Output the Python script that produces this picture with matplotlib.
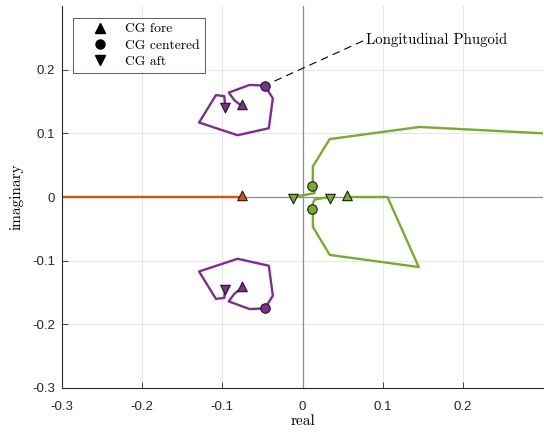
import numpy as np
import matplotlib
matplotlib.use("Agg")
import matplotlib.pyplot as plt
from matplotlib.lines import Line2D
from matplotlib.path import Path

# ---- data ----
# Phugoid (purple) upper branch: fore -> centered -> aft
phug_re = [-0.0758, -0.085, -0.092, -0.066, -0.047, -0.037, -0.042, -0.081, -0.129, -0.108, -0.0975, -0.0966]
phug_im = [0.1429, 0.152, 0.164, 0.176, 0.175, 0.155, 0.108, 0.097, 0.117, 0.160, 0.1585, 0.143]
phug_fore = (-0.0758, 0.1429)
phug_cent = (-0.047, 0.175)
phug_aft = (-0.0966, 0.143)

# Green branch 1 (upper): fore (off-screen right) -> centered -> aft
g1_re = [0.45, 0.30, 0.146, 0.034, 0.0129, 0.0129, 0.012, 0.015, 0.015, -0.012]
g1_im = [0.09, 0.100, 0.110, 0.091, 0.048, 0.024, 0.018, 0.012, 0.006, 0.0]
g1_cent = (0.012, 0.018)
g1_aft = (-0.012, 0.0)

# Green branch 2 (lower): fore -> centered -> aft
g2_re = [0.056, 0.106, 0.145, 0.034, 0.013, 0.0129, 0.012, 0.013, 0.015, 0.034]
g2_im = [0.0, 0.0, -0.110, -0.091, -0.047, -0.025, -0.019, -0.010, -0.004, 0.0]
g2_fore = (0.056, 0.0)
g2_cent = (0.012, -0.019)
g2_aft = (0.034, 0.0)

# Orange (real root)
or_re = [-0.6, -0.076]
or_im = [0.0, 0.0]
or_fore = (-0.076, 0.0)

xticks = [-0.3, -0.2, -0.1, 0, 0.1, 0.2]
xticklabels = ["-0.3", "-0.2", "-0.1", "0", "0.1", "0.2"]
yticks = [-0.3, -0.2, -0.1, 0, 0.1, 0.2]
yticklabels = ["-0.3", "-0.2", "-0.1", "0", "0.1", "0.2"]

legend_labels = ["CG fore", "CG centered", "CG aft"]
annot_text = "Longitudinal Phugoid"
annot_from = (-0.035, 0.182)
annot_to = (0.0795, 0.2475)

# ---- style ----
PURPLE = "#7E2F8E"
GREEN = "#77AC30"
ORANGE = "#D95319"
SERIF = "cmr10"
SANS = ["Liberation Sans", "DejaVu Sans"]

# centroid-centered triangles (MATLAB-like)
tri_up = Path([(0, 4/3), (-1, -2/3), (1, -2/3), (0, 4/3)], closed=True)
tri_dn = Path([(0, -4/3), (-1, 2/3), (1, 2/3), (0, -4/3)], closed=True)
MS_TRI = 9.2
MS_CIR = 6.8

fig = plt.figure(figsize=(5.44, 4.32), dpi=100)
ax = fig.add_axes([62/544, 44/432, 481/544, 382/432])

ax.set_xlim(-0.3, 0.3)
ax.set_ylim(-0.3, 0.3)

ax.grid(True, color="#e3e3e3", linewidth=0.6, zorder=0)
ax.set_axisbelow(True)
ax.axhline(0, color="#8c8c8c", linewidth=0.9, zorder=1)
ax.axvline(0, color="#8c8c8c", linewidth=0.9, zorder=1)

lw = 1.7
ax.plot(or_re, or_im, color=ORANGE, lw=lw, zorder=2)
ax.plot(phug_re, phug_im, color=PURPLE, lw=lw, zorder=2)
ax.plot(phug_re, [-v for v in phug_im], color=PURPLE, lw=lw, zorder=2)
ax.plot(g1_re, g1_im, color=GREEN, lw=lw, zorder=2)
ax.plot(g2_re, g2_im, color=GREEN, lw=lw, zorder=2)

def mk(pt, marker, color, ms):
    ax.plot([pt[0]], [pt[1]], linestyle="none", marker=marker, markersize=ms,
            markerfacecolor=color, markeredgecolor="#1a1a1a", markeredgewidth=0.8, zorder=4)

for s in (1, -1):
    mk((phug_fore[0], s * phug_fore[1]), tri_up, PURPLE, MS_TRI)
    mk((phug_cent[0], s * phug_cent[1]), "o", PURPLE, MS_CIR)
    mk((phug_aft[0], s * phug_aft[1]), tri_dn, PURPLE, MS_TRI)

mk(or_fore, tri_up, ORANGE, MS_TRI)
mk(g1_cent, "o", GREEN, MS_CIR)
mk(g1_aft, tri_dn, GREEN, MS_TRI)
mk(g2_fore, tri_up, GREEN, MS_TRI)
mk(g2_cent, "o", GREEN, MS_CIR)
mk(g2_aft, tri_dn, GREEN, MS_TRI)

# annotation
ax.plot([annot_from[0], annot_to[0]], [annot_from[1], annot_to[1]], color="black",
        lw=0.8, linestyle=(0, (7, 4.5)), zorder=3)
ax.text(annot_to[0], annot_to[1] - 0.001, annot_text, fontsize=10.7, family=SERIF,
        va="center", ha="left", zorder=3)

# ticks
ax.set_xticks(xticks)
ax.set_xticklabels(xticklabels, fontfamily=SANS, fontsize=9.5)
ax.set_yticks(yticks)
ax.set_yticklabels(yticklabels, fontfamily=SANS, fontsize=9.5)
ax.tick_params(direction="in", length=4, width=0.6, colors="#262626")
ax.tick_params(axis="x", pad=9)
ax.tick_params(axis="y", pad=5)
for s in ("top", "right"):
    ax.spines[s].set_visible(False)
for s in ("left", "bottom"):
    ax.spines[s].set_color("#262626")
    ax.spines[s].set_linewidth(0.8)

ax.set_xlabel("real", family=SERIF, fontsize=11, labelpad=1)
ax.set_ylabel("imaginary", family=SERIF, fontsize=11, labelpad=6)

# legend
handles = [
    Line2D([], [], linestyle="none", marker="^", color="black", markersize=7),
    Line2D([], [], linestyle="none", marker="o", color="black", markersize=6.5),
    Line2D([], [], linestyle="none", marker="v", color="black", markersize=7),
]
leg = ax.legend(handles, legend_labels, loc="upper left",
                bbox_to_anchor=((73 - 62) / 481, 1 - (18 - 6) / 382),
                borderaxespad=0, prop={"family": SERIF, "size": 9.8},
                frameon=True, fancybox=False, handlelength=3.2, handletextpad=0.3,
                labelspacing=0.28, borderpad=0.35)
leg.get_frame().set_edgecolor("#333333")
leg.get_frame().set_linewidth(0.7)

fig.savefig("out.png", dpi=100)
